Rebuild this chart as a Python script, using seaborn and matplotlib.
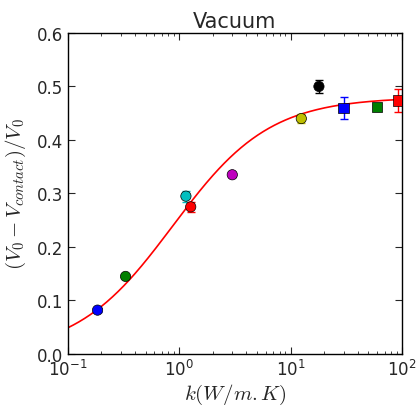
import matplotlib
matplotlib.use("Agg")
import matplotlib.pyplot as plt
import seaborn as sns
import numpy as np
import pandas as pd

# measured points (conductivity, normalised voltage drop, error)
k_vals = [0.185, 0.33, 1.15, 1.27, 3.0, 12.5, 18.0, 30.0, 60.0, 92.0]
v_vals = [0.082, 0.145, 0.295, 0.275, 0.335, 0.44, 0.50, 0.46, 0.462, 0.474]
v_err = [0.004, 0.0, 0.01, 0.01, 0.004, 0.008, 0.012, 0.02, 0.0, 0.022]
point_ids = ["p1", "p2", "p3", "p4", "p5", "p6", "p7", "p8", "p9", "p10"]
colors = ["#0000ff", "#007f00", "#00bfbf", "#ff0000", "#bf00bf",
          "#bfbf00", "#000000", "#0000ff", "#007f00", "#ff0000"]
markers = ["o", "o", "o", "o", "o", "o", "o", "s", "s", "s"]

# fit parameters: V = A*k/(k+k0)
fit_A = 0.48
fit_k0 = 0.88

df = pd.DataFrame({"k": k_vals, "v": v_vals, "err": v_err, "id": point_ids})

sns.set_style("ticks", {"xtick.direction": "in", "ytick.direction": "in",
                        "axes.edgecolor": "black"})
plt.rcParams["mathtext.fontset"] = "cm"
plt.rcParams["font.family"] = ["DejaVu Sans"]

fig = plt.figure(figsize=(4.16, 4.14), dpi=100)
ax = fig.add_axes([0.163, 0.1425, 0.803, 0.7755])

kk = np.logspace(-1, 2, 300)
ax.plot(kk, fit_A * kk / (kk + fit_k0), color="red", lw=1.2, zorder=1)

for i, row in df.iterrows():
    if row["err"] > 0:
        ax.errorbar(row["k"], row["v"], yerr=row["err"], fmt="none",
                    ecolor=colors[i], elinewidth=1, capsize=3, zorder=2)

sns.scatterplot(data=df, x="k", y="v", hue="id", style="id",
                palette=dict(zip(point_ids, colors)),
                markers=dict(zip(point_ids, markers)),
                s=55, edgecolor="black", linewidth=0.5, legend=False,
                ax=ax, zorder=3)

ax.set_xscale("log")
ax.set_xlim(0.1, 100)
ax.set_ylim(0, 0.6)
ax.set_yticks(np.arange(0, 0.61, 0.1))
ax.yaxis.set_major_formatter(matplotlib.ticker.FormatStrFormatter("%.1f"))
ax.tick_params(which="both", top=True, right=True, labelsize=12)
ax.tick_params(which="major", length=5)
ax.tick_params(which="minor", length=2.5)
for s in ax.spines.values():
    s.set_linewidth(1)

ax.set_title("Vacuum", fontsize=15, pad=4)
ax.set_xlabel(r"$k(W/m.K)$", fontsize=15, labelpad=2)
ax.set_ylabel(r"$(V_0 - V_{contact})/V_0$", fontsize=15, labelpad=6)

fig.savefig("out.png", dpi=100)
